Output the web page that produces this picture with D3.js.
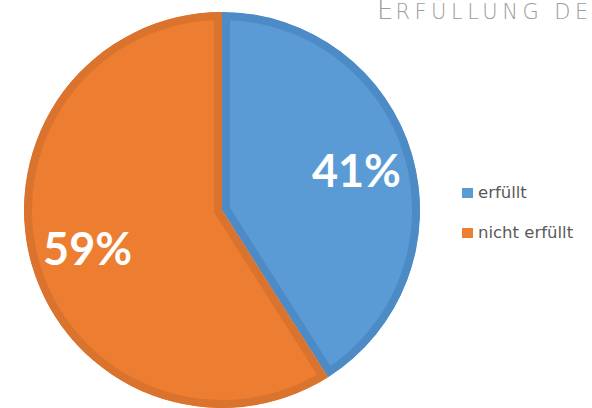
<!DOCTYPE html>
<html>
<head>
<meta charset="utf-8">
<script src="https://cdn.jsdelivr.net/npm/d3@7"></script>
<style>
  body { margin: 0; background: #fff; }
  svg { display: block; }
</style>
</head>
<body>
<div id="chart"></div>
<script>
// data
var categories = ["erfüllt", "nicht erfüllt"];
var shares = [41, 59];
var fills = ["#5b9bd5", "#ed7d31"];
var edges = ["#4d8bc6", "#d9732e"];
var titleText = "Erfüllung der Anforderungen";

var width = 592, height = 408;
var cx = 222, cy = 210, radius = 198;

var svg = d3.select("#chart").append("svg")
    .attr("width", width)
    .attr("height", height);

// title, cut off by the right edge like in the original
var title = svg.append("text")
    .attr("x", 377)
    .attr("y", 19)
    .attr("fill", "#9c9c9c")
    .style("font-family", "'DejaVu Sans', sans-serif")
    .style("font-weight", 200);
var words = titleText.toUpperCase();
title.append("tspan").style("font-size", "26px").style("letter-spacing", "2px").text(words.charAt(0));
title.append("tspan").style("font-size", "21px").style("letter-spacing", "4.5px").text(words.slice(1));

var pie = d3.pie().sort(null).value(function(d) { return d; });
var arcs = pie(shares);

var arc = d3.arc().innerRadius(0).outerRadius(radius);
var labelArc = d3.arc().innerRadius(140).outerRadius(140);

var g = svg.append("g")
    .attr("transform", "translate(" + cx + "," + cy + ")");

var defs = svg.append("defs");
arcs.forEach(function(d, i) {
  defs.append("clipPath")
      .attr("id", "clip" + i)
    .append("path")
      .attr("d", arc(d));
});

// slices with an inset darker border
g.selectAll("path.slice")
    .data(arcs)
  .enter().append("path")
    .attr("class", "slice")
    .attr("d", arc)
    .attr("fill", function(d, i) { return fills[i]; })
    .attr("stroke", function(d, i) { return edges[i]; })
    .attr("stroke-width", 16)
    .attr("stroke-linejoin", "miter")
    .attr("clip-path", function(d, i) { return "url(#clip" + i + ")"; });

// percentage labels
g.selectAll("text.pct")
    .data(arcs)
  .enter().append("text")
    .attr("class", "pct")
    .attr("transform", function(d) { return "translate(" + labelArc.centroid(d) + ")"; })
    .attr("dy", "0.36em")
    .attr("text-anchor", "middle")
    .attr("fill", "#fff")
    .style("font-family", "Lato, sans-serif")
    .style("font-weight", 700)
    .style("font-size", "45px")
    .text(function(d) { return d.data + "%"; });

// legend
var legend = svg.append("g")
    .attr("transform", "translate(462,188)");

var item = legend.selectAll("g")
    .data(categories)
  .enter().append("g")
    .attr("transform", function(d, i) { return "translate(0," + (i * 40) + ")"; });

item.append("rect")
    .attr("width", 11)
    .attr("height", 10)
    .attr("fill", function(d, i) { return fills[i]; });

item.append("text")
    .attr("x", 16)
    .attr("y", 10)
    .attr("fill", "#595959")
    .style("font-family", "'DejaVu Sans', sans-serif")
    .style("font-size", "16.5px")
    .text(function(d) { return d; });
</script>
</body>
</html>
